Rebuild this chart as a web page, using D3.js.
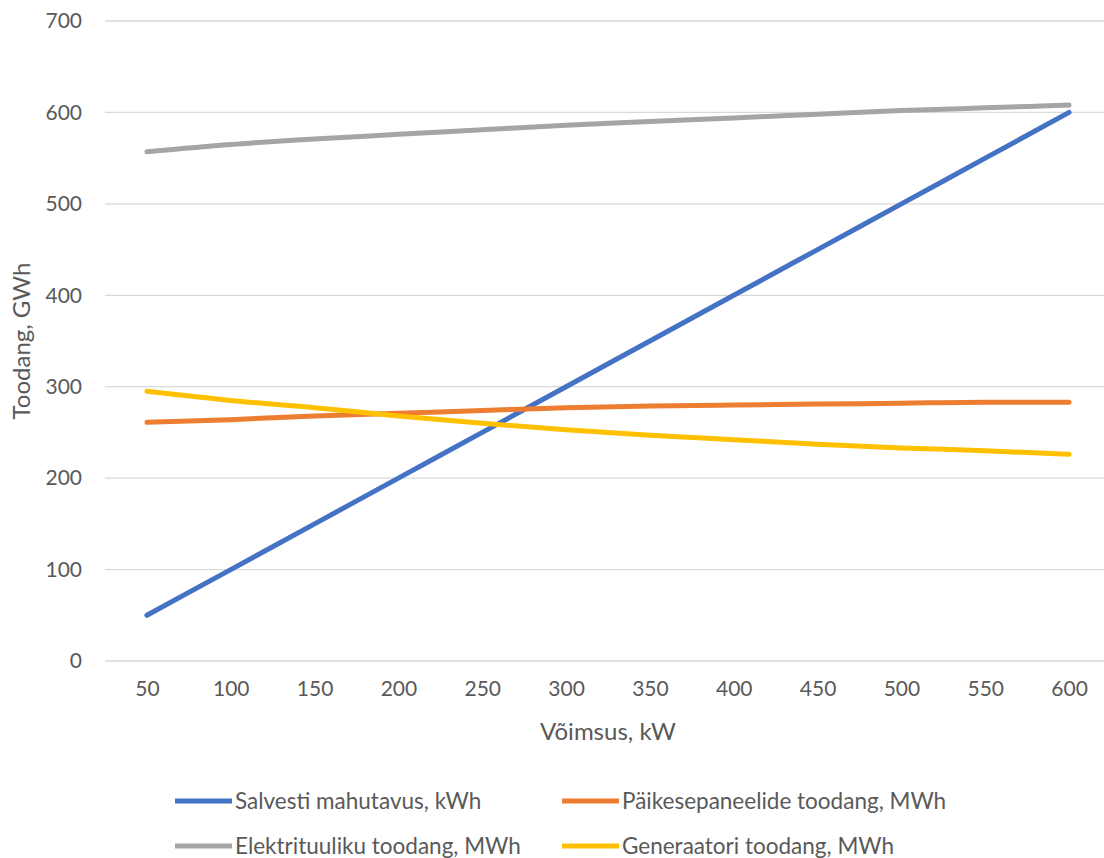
<!DOCTYPE html>
<html>
<head>
<meta charset="utf-8">
<script src="https://cdn.jsdelivr.net/npm/d3@7"></script>
<style>
  html, body { margin: 0; padding: 0; background: #fff; }
  svg text { font-family: Lato, "Open Sans", sans-serif; fill: #595959; }
</style>
</head>
<body>
<svg id="chart" width="1104" height="858"></svg>
<script>
// Power rating (kW) on the category axis
const capacities = [50, 100, 150, 200, 250, 300, 350, 400, 450, 500, 550, 600];
// Series values
const storageKWh   = [50, 100, 150, 200, 250, 300, 350, 400, 450, 500, 550, 600];
const solarMWh     = [261, 264, 268, 271, 274, 277, 279, 280, 281, 282, 283, 283];
const windMWh      = [557, 565, 571, 576, 581, 586, 590, 594, 598, 602, 605, 608];
const generatorMWh = [295, 285, 277, 268, 260, 253, 247, 242, 237, 233, 230, 226];
const yTicks = [0, 100, 200, 300, 400, 500, 600, 700];

const seriesNames = [
  "Salvesti mahutavus, kWh",
  "Päikesepaneelide toodang, MWh",
  "Elektrituuliku toodang, MWh",
  "Generaatori toodang, MWh"
];
const seriesColors = ["#4472C4", "#ED7D31", "#A5A5A5", "#FFC000"];
const seriesValues = [storageKWh, solarMWh, windMWh, generatorMWh];

const svg = d3.select("#chart");
const plot = { left: 105, right: 1111, top: 21, bottom: 661 };

const x = d3.scalePoint()
  .domain(capacities)
  .range([plot.left, plot.right])
  .padding(0.5);

const y = d3.scaleLinear()
  .domain([0, 700])
  .range([plot.bottom, plot.top]);

// Horizontal gridlines
svg.append("g")
  .selectAll("line")
  .data(yTicks)
  .join("line")
  .attr("x1", plot.left)
  .attr("x2", plot.right)
  .attr("y1", d => y(d))
  .attr("y2", d => y(d))
  .attr("stroke", "#D9D9D9")
  .attr("stroke-width", 1.3);

// Y axis labels
const yAxis = svg.append("g")
  .attr("transform", `translate(${plot.left - 23},0)`)
  .call(d3.axisLeft(y).tickValues(yTicks).tickSize(0).tickPadding(0));
yAxis.select(".domain").remove();
yAxis.selectAll("text")
  .attr("font-size", 21)
  .attr("fill", "#595959")
  .style("font-family", "Lato, 'Open Sans', sans-serif");

// X axis labels
const xAxis = svg.append("g")
  .attr("transform", `translate(0,${plot.bottom + 20})`)
  .call(d3.axisBottom(x).tickSize(0).tickPadding(0));
xAxis.select(".domain").remove();
xAxis.selectAll("text")
  .attr("font-size", 21)
  .attr("fill", "#595959")
  .style("font-family", "Lato, 'Open Sans', sans-serif");

// Axis titles
svg.append("text")
  .attr("x", (x(capacities[0]) + x(capacities[capacities.length - 1])) / 2)
  .attr("y", 740)
  .attr("text-anchor", "middle")
  .attr("font-size", 24)
  .text("Võimsus, kW");

svg.append("text")
  .attr("transform", `translate(30,${(plot.top + plot.bottom) / 2}) rotate(-90)`)
  .attr("text-anchor", "middle")
  .attr("font-size", 24)
  .text("Toodang, GWh");

// Series lines
const line = d3.line()
  .x((d, i) => x(capacities[i]))
  .y(d => y(d))
  .curve(d3.curveMonotoneX);

svg.append("g")
  .selectAll("path")
  .data(seriesValues)
  .join("path")
  .attr("d", d => line(d))
  .attr("fill", "none")
  .attr("stroke", (d, i) => seriesColors[i])
  .attr("stroke-width", 5)
  .attr("stroke-linecap", "round")
  .attr("stroke-linejoin", "round");

// Legend (2 x 2)
const legendPos = [
  { x: 175, y: 801 },
  { x: 562, y: 801 },
  { x: 175, y: 846 },
  { x: 562, y: 846 }
];
const legend = svg.append("g")
  .selectAll("g")
  .data(seriesNames)
  .join("g")
  .attr("transform", (d, i) => `translate(${legendPos[i].x},${legendPos[i].y})`);
legend.append("line")
  .attr("x1", 0).attr("x2", 57)
  .attr("y1", 0).attr("y2", 0)
  .attr("stroke", (d, i) => seriesColors[i])
  .attr("stroke-width", 5);
legend.append("text")
  .attr("x", 60)
  .attr("y", 0)
  .attr("dy", "0.35em")
  .attr("font-size", 22.5)
  .text(d => d);
</script>
</body>
</html>
